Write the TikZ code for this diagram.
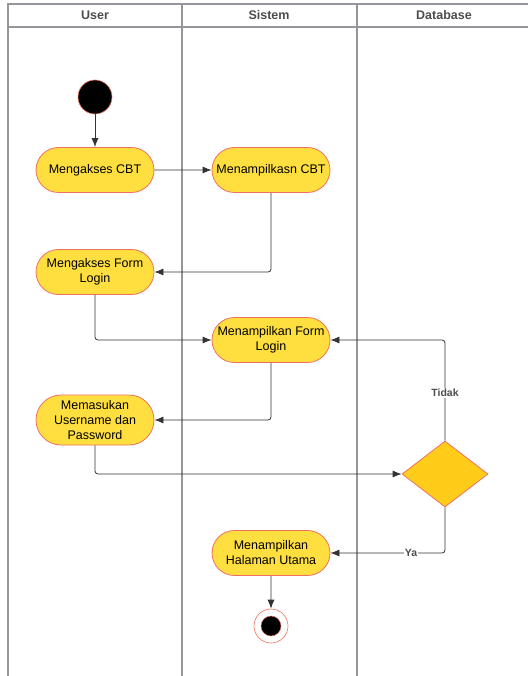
\documentclass[tikz,border=0pt]{standalone}
\usepackage{fontspec}
\setmainfont{Liberation Sans}
\usetikzlibrary{arrows.meta,shapes.geometric,shapes.misc}
\definecolor{actfill}{HTML}{FFDF40}
\definecolor{actdraw}{HTML}{F07060}
\definecolor{decfill}{HTML}{FFCC1A}
\definecolor{lanecol}{HTML}{95959C}
\definecolor{linecol}{HTML}{333333}
\tikzset{
  act/.style={rounded rectangle, draw=actdraw, fill=actfill, line width=0.8pt,
    minimum width=122pt, minimum height=45pt, align=center, inner sep=2pt,
    font=\fontsize{12.5}{15}\selectfont},
  dec/.style={diamond, draw=actdraw, fill=decfill, line width=0.8pt,
    minimum width=86pt, minimum height=66pt, inner sep=0pt},
  lane/.style={draw=lanecol, line width=1.2pt},
  conn/.style={draw=linecol, line width=0.8pt, rounded corners=3pt,
    -{Latex[length=9pt,width=7pt]}},
  hdr/.style={font=\fontsize{12.5}{14}\selectfont\bfseries, text=black!70},
  lbl/.style={font=\fontsize{10.5}{12}\selectfont\bfseries, text=black!70, fill=white, inner sep=1pt}
}
\begin{document}
\begin{tikzpicture}[x=1pt,y=-1pt]
\useasboundingbox (0,0) rectangle (528,676);
% swimlanes
\draw[lane] (8,676) -- (8,4) -- (528,4);
\draw[lane] (8,27) -- (528,27);
\draw[lane] (182,4) -- (182,676);
\draw[lane] (357,4) -- (357,676);
\node[hdr] (hu) at (95,15) {User};
\node[hdr] (hs) at (269,15) {Sistem};
\node[hdr] (hd) at (444,15) {Database};
% nodes
\node[circle, fill=black, draw=actdraw, line width=0.6pt, minimum size=34pt, inner sep=0pt] (start) at (95,97) {};
\node[act] (a1) at (95,170) {Mengakses CBT};
\node[act] (s1) at (271,170) {Menampilkasn CBT};
\node[act] (a2) at (95,272) {Mengakses Form\\Login};
\node[act] (s2) at (271,340) {Menampilkan Form\\Login};
\node[act, minimum height=50pt] (a3) at (95,420) {Memasukan\\Username dan\\Password};
\node[dec] (d) at (445,474) {};
\node[act] (s3) at (271,553) {Menampilkan\\Halaman Utama};
\node[circle, fill=white, draw=actdraw, line width=0.6pt, minimum size=34pt, inner sep=0pt] (end) at (271,626) {};
\node[circle, fill=black, draw=actdraw, line width=0.4pt, minimum size=20pt, inner sep=0pt] (endin) at (271,626) {};
% connectors
\draw[conn] (start) -- (a1);
\draw[conn] (a1) -- (s1);
\draw[conn] (s1.south) |- (a2.east);
\draw[conn] (a2.south) |- (s2.west);
\draw[conn] (s2.south) |- (a3.east);
\draw[conn] (a3.south) |- (d.west);
\draw[conn] (d.north) |- (s2.east);
\draw[conn] (d.south) |- (s3.east);
\draw[conn] (s3) -- (end);
\node[lbl] (tidak) at (445,393) {Tidak};
\node[lbl] (ya) at (411,553) {Ya};
\end{tikzpicture}
\end{document}
